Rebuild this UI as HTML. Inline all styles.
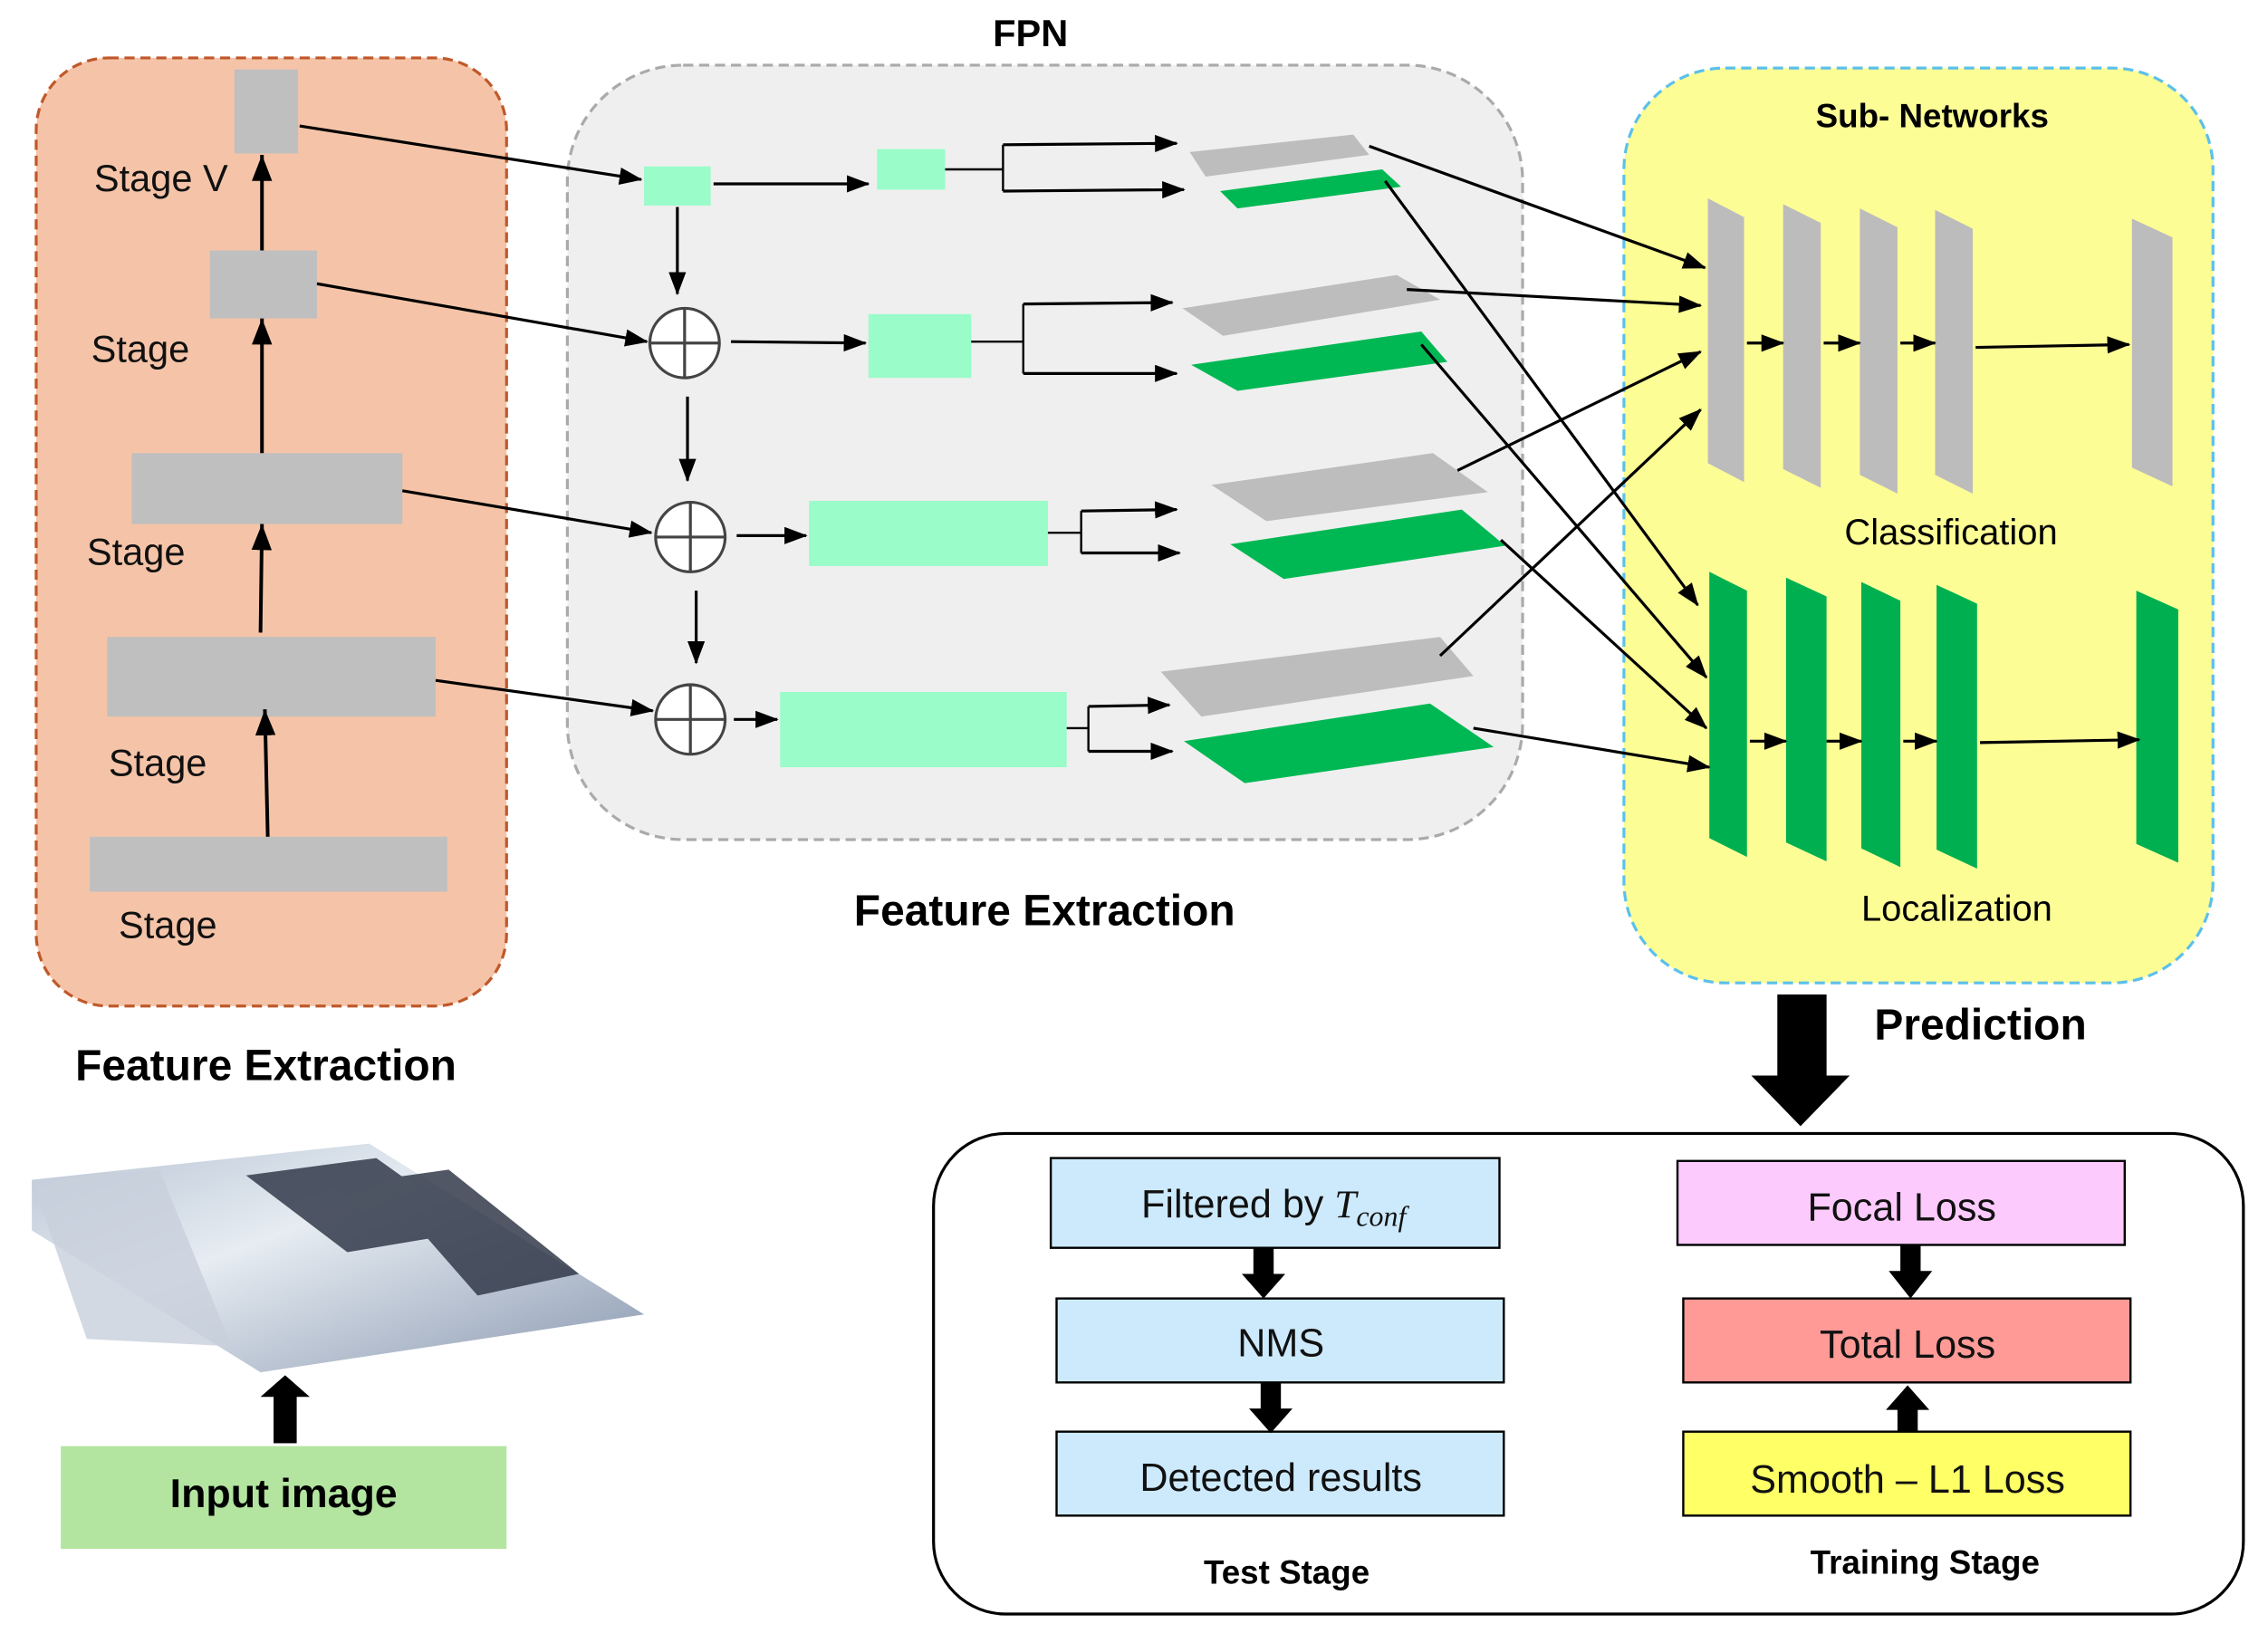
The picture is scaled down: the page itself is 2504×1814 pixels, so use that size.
<!DOCTYPE html>
<html><head><meta charset="utf-8"><style>
html,body{margin:0;padding:0;background:#fff;}
svg{display:block;}
text{font-family:"Liberation Sans",sans-serif;}
</style></head><body>
<svg width="2504" height="1814" viewBox="0 0 1567 1135" preserveAspectRatio="none" xmlns="http://www.w3.org/2000/svg">
<defs>
<marker id="a" markerWidth="16" markerHeight="12" refX="15" refY="6" orient="auto" markerUnits="userSpaceOnUse"><path d="M0,0 L16,6 L0,12 z" fill="#000"/></marker>
<marker id="b" markerWidth="20" markerHeight="14" refX="18" refY="7" orient="auto" markerUnits="userSpaceOnUse"><path d="M0,0 L18,7 L0,14 z" fill="#000"/></marker>
<linearGradient id="img" x1="0" y1="0" x2="1" y2="1"><stop offset="0" stop-color="#b8c4d4"/><stop offset="0.4" stop-color="#e6ecf2"/><stop offset="1" stop-color="#8a98b0"/></linearGradient>
</defs>
<rect x="25" y="40" width="325" height="655" rx="50" fill="#f5c4a8" stroke="#c0582a" stroke-width="2" stroke-dasharray="7,4"/>
<g fill="#bfbfbf">
<rect x="162" y="48" width="44" height="58"/>
<rect x="145" y="173" width="74" height="47"/>
<rect x="91" y="313" width="187" height="49"/>
<rect x="74" y="440" width="227" height="55"/>
<rect x="62" y="578" width="247" height="38"/>
</g>
<g stroke="#000" stroke-width="2.5" marker-end="url(#b)">
<line x1="185" y1="578" x2="183" y2="490"/>
<line x1="180" y1="437" x2="181" y2="362"/>
<line x1="181" y1="313" x2="181" y2="220"/>
<line x1="181" y1="173" x2="181" y2="107"/>
</g>
<g font-size="26" fill="#111">
<text x="65" y="132">Stage V</text>
<text x="63" y="250">Stage</text>
<text x="60" y="390">Stage</text>
<text x="75" y="536">Stage</text>
<text x="82" y="648">Stage</text>
</g>
<text x="52" y="746" font-size="30" font-weight="bold">Feature Extraction</text>
<polygon points="22,815 255,790 445,908 180,948 22,850" fill="url(#img)"/>
<g fill="#333a4a" opacity="0.85">
<polygon points="170,812 260,800 330,850 240,865"/>
<polygon points="260,815 310,808 400,880 330,895"/>
</g>
<polygon points="22,815 110,808 160,930 60,925" fill="#c8d0dc" opacity="0.8"/>
<rect x="189" y="962" width="16" height="35" fill="#000"/>
<polygon points="180,965 197,950 214,965" fill="#000"/>
<rect x="42" y="999" width="308" height="71" fill="#b3e5a0"/>
<text x="196" y="1041" font-size="28" font-weight="bold" text-anchor="middle">Input image</text>

<rect x="392" y="45" width="660" height="535" rx="80" fill="#efefef" stroke="#aaa" stroke-width="2" stroke-dasharray="7,4"/>
<text x="712" y="32" font-size="26" font-weight="bold" text-anchor="middle">FPN</text>
<g fill="#99fcc9">
<rect x="445" y="115" width="46" height="27"/>
<rect x="606" y="103" width="47" height="28"/>
<rect x="600" y="217" width="71" height="44"/>
<rect x="559" y="346" width="165" height="45"/>
<rect x="539" y="478" width="198" height="52"/>
</g>
<g fill="#fff" stroke="#444" stroke-width="2">
<circle cx="473" cy="237" r="24"/><circle cx="477" cy="371" r="24"/><circle cx="477" cy="497" r="24"/>
</g>
<g stroke="#444" stroke-width="2">
<line x1="449" y1="237" x2="497" y2="237"/><line x1="473" y1="213" x2="473" y2="261"/>
<line x1="453" y1="371" x2="501" y2="371"/><line x1="477" y1="347" x2="477" y2="395"/>
<line x1="453" y1="497" x2="501" y2="497"/><line x1="477" y1="473" x2="477" y2="521"/>
</g>
<g stroke="#000" stroke-width="2" marker-end="url(#a)">
<line x1="207" y1="87" x2="443" y2="124"/>
<line x1="219" y1="196" x2="447" y2="236"/>
<line x1="278" y1="339" x2="450" y2="368"/>
<line x1="301" y1="470" x2="451" y2="491"/>
<line x1="468" y1="143" x2="468" y2="203"/>
<line x1="475" y1="274" x2="475" y2="332"/>
<line x1="481" y1="408" x2="481" y2="458"/>
<line x1="493" y1="127" x2="600" y2="127"/>
<line x1="505" y1="236" x2="598" y2="237"/>
<line x1="509" y1="370" x2="557" y2="370"/>
<line x1="507" y1="497" x2="537" y2="497"/>
<line x1="693" y1="100" x2="813" y2="99"/>
<line x1="693" y1="132" x2="818" y2="131"/>
<line x1="707" y1="210" x2="810" y2="209"/>
<line x1="707" y1="258" x2="813" y2="258"/>
<line x1="747" y1="353" x2="813" y2="352"/>
<line x1="747" y1="382" x2="815" y2="382"/>
<line x1="752" y1="488" x2="808" y2="487"/>
<line x1="752" y1="519" x2="810" y2="519"/>
</g>
<g stroke="#000" stroke-width="1.5" fill="none">
<line x1="653" y1="117" x2="693" y2="117"/><line x1="693" y1="100" x2="693" y2="132"/>
<line x1="671" y1="236" x2="707" y2="236"/><line x1="707" y1="210" x2="707" y2="258"/>
<line x1="724" y1="368" x2="747" y2="368"/><line x1="747" y1="353" x2="747" y2="382"/>
<line x1="737" y1="503" x2="752" y2="503"/><line x1="752" y1="488" x2="752" y2="519"/>
</g>
<g fill="#bdbdbd">
<polygon points="822,105 935,93 946,107 833,122"/>
<polygon points="817,213 965,190 995,207 845,232"/>
<polygon points="837,335 990,313 1028,340 875,360"/>
<polygon points="802,464 995,440 1018,467 830,495"/>
</g>
<g fill="#00b853">
<polygon points="843,132 955,117 968,129 855,144"/>
<polygon points="823,252 982,229 1000,250 855,270"/>
<polygon points="850,376 1010,352 1040,377 887,400"/>
<polygon points="818,512 988,486 1032,516 860,541"/>
</g>
<rect x="1122" y="47" width="407" height="632" rx="70" fill="#fdfd96" stroke="#5bc0eb" stroke-width="2" stroke-dasharray="7,4"/>
<text x="1335" y="88" font-size="23" font-weight="bold" text-anchor="middle">Sub- Networks</text>
<g fill="#bcbcbc">
<polygon points="1180,137 1205,150 1205,333 1180,320"/>
<polygon points="1232,141 1258,154 1258,337 1232,324"/>
<polygon points="1285,144 1311,157 1311,341 1285,328"/>
<polygon points="1337,145 1363,158 1363,341 1337,328"/>
<polygon points="1473,151 1501,164 1501,336 1473,323"/>
</g>
<g fill="#00b050">
<polygon points="1181,395 1207,408 1207,592 1181,579"/>
<polygon points="1234,399 1262,412 1262,595 1234,582"/>
<polygon points="1286,402 1313,415 1313,599 1286,586"/>
<polygon points="1338,404 1366,417 1366,600 1338,587"/>
<polygon points="1476,408 1505,421 1505,596 1476,583"/>
</g>
<g stroke="#000" stroke-width="2" marker-end="url(#a)">
<line x1="1207" y1="237" x2="1232" y2="237"/>
<line x1="1260" y1="237" x2="1285" y2="237"/>
<line x1="1313" y1="237" x2="1337" y2="237"/>
<line x1="1365" y1="240" x2="1471" y2="238"/>
<line x1="1209" y1="512" x2="1234" y2="512"/>
<line x1="1262" y1="512" x2="1286" y2="512"/>
<line x1="1315" y1="512" x2="1338" y2="512"/>
<line x1="1368" y1="513" x2="1478" y2="511"/>
<line x1="946" y1="101" x2="1178" y2="185"/>
<line x1="972" y1="200" x2="1175" y2="211"/>
<line x1="1007" y1="325" x2="1175" y2="243"/>
<line x1="995" y1="453" x2="1175" y2="283"/>
<line x1="957" y1="125" x2="1173" y2="418"/>
<line x1="982" y1="238" x2="1179" y2="468"/>
<line x1="1037" y1="373" x2="1179" y2="503"/>
<line x1="1018" y1="503" x2="1181" y2="530"/>
</g>
<text x="1348" y="376" font-size="25" text-anchor="middle">Classification</text>
<text x="1352" y="636" font-size="25" text-anchor="middle">Localization</text>
<rect x="1228" y="687" width="34" height="58" fill="#000"/>
<polygon points="1210,743 1278,743 1244,778" fill="#000"/>
<text x="1295" y="718" font-size="30" font-weight="bold">Prediction</text>
<text x="590" y="639" font-size="30" font-weight="bold">Feature Extraction</text>
<rect x="645" y="783" width="905" height="332" rx="50" fill="#fff" stroke="#000" stroke-width="2"/>
<g stroke="#000" stroke-width="1.5">
<rect x="726" y="800" width="310" height="62" fill="#cdeafc"/>
<rect x="730" y="897" width="309" height="58" fill="#cdeafc"/>
<rect x="730" y="989" width="309" height="58" fill="#cdeafc"/>
<rect x="1159" y="802" width="309" height="58" fill="#fccafc"/>
<rect x="1163" y="897" width="309" height="58" fill="#ff9a96"/>
<rect x="1163" y="989" width="309" height="58" fill="#ffff66"/>
</g>
<g font-size="27" text-anchor="middle" fill="#111">
<text x="880" y="841">Filtered by <tspan font-family="Liberation Serif" font-style="italic">T</tspan><tspan font-family="Liberation Serif" font-style="italic" font-size="20" dy="6">conf</tspan></text>
<text x="885" y="937">NMS</text>
<text x="885" y="1030">Detected results</text>
<text x="1314" y="843">Focal Loss</text>
<text x="1318" y="938">Total Loss</text>
<text x="1318" y="1031">Smooth – L1 Loss</text>
</g>
<g fill="#000">
<rect x="866" y="862" width="14" height="20"/><polygon points="858,880 888,880 873,897"/>
<rect x="871" y="955" width="14" height="20"/><polygon points="863,973 893,973 878,990"/>
<rect x="1313" y="860" width="14" height="20"/><polygon points="1305,878 1335,878 1320,897"/>
<rect x="1311" y="972" width="14" height="17"/><polygon points="1303,974 1333,974 1318,957"/>
</g>
<text x="889" y="1094" font-size="23" font-weight="bold" text-anchor="middle">Test Stage</text>
<text x="1330" y="1087" font-size="23" font-weight="bold" text-anchor="middle">Training Stage</text>
</svg>
</body></html>
